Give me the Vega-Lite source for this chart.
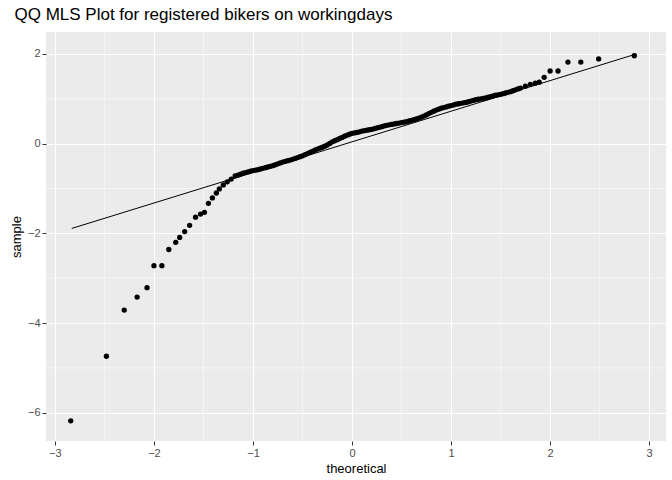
{
  "$schema": "https://vega.github.io/schema/vega-lite/v6.json",
  "width": 672,
  "height": 480,
  "autosize": {"type": "fit", "contains": "padding"},
  "padding": {"left": 10, "right": 5, "top": 5, "bottom": 5},
  "background": "white",
  "title": {"text": "QQ MLS Plot for registered bikers on workingdays", "anchor": "start", "font": "Liberation Sans", "fontSize": 17, "fontWeight": "normal", "color": "black", "offset": 8, "dx": 4},
  "config": {
    "view": {"fill": "#EBEBEB", "stroke": null},
    "axis": {"labelFont": "Liberation Sans", "titleFont": "Liberation Sans", "labelFontSize": 11, "titleFontSize": 13, "titleFontWeight": "normal", "labelColor": "#4D4D4D", "titleColor": "black", "tickColor": "#333333", "tickSize": 4, "domain": false, "gridColor": "white", "gridWidth": 1.1, "format": "d"}
  },
  "datasets": {
    "pts": [
      {"theoretical": -2.84, "sample": -6.18}, {"theoretical": -2.48, "sample": -4.74}, {"theoretical": -2.30, "sample": -3.71},
      {"theoretical": -2.17, "sample": -3.42}, {"theoretical": -2.07, "sample": -3.21}, {"theoretical": -2.00, "sample": -2.72},
      {"theoretical": -1.92, "sample": -2.72}, {"theoretical": -1.85, "sample": -2.36}, {"theoretical": -1.78, "sample": -2.20},
      {"theoretical": -1.74, "sample": -2.09}, {"theoretical": -1.69, "sample": -1.96}, {"theoretical": -1.64, "sample": -1.82},
      {"theoretical": -1.58, "sample": -1.64}, {"theoretical": -1.53, "sample": -1.57}, {"theoretical": -1.49, "sample": -1.53},
      {"theoretical": -1.45, "sample": -1.33}, {"theoretical": -1.41, "sample": -1.21}, {"theoretical": -1.37, "sample": -1.10},
      {"theoretical": -1.34, "sample": -1.01}, {"theoretical": -1.30, "sample": -0.92}, {"theoretical": -1.26, "sample": -0.85},
      {"theoretical": -1.22, "sample": -0.79}, {"theoretical": -1.18, "sample": -0.72},
      {"theoretical": -1.15, "sample": -0.70}, {"theoretical": -1.125, "sample": -0.68}, {"theoretical": -1.10, "sample": -0.66}, {"theoretical": -1.075, "sample": -0.645}, {"theoretical": -1.05, "sample": -0.63},
      {"theoretical": -1.025, "sample": -0.615}, {"theoretical": -1.00, "sample": -0.60}, {"theoretical": -0.975, "sample": -0.59}, {"theoretical": -0.95, "sample": -0.58}, {"theoretical": -0.925, "sample": -0.565}, {"theoretical": -0.90, "sample": -0.55},
      {"theoretical": -0.875, "sample": -0.535}, {"theoretical": -0.85, "sample": -0.52}, {"theoretical": -0.825, "sample": -0.505}, {"theoretical": -0.80, "sample": -0.49}, {"theoretical": -0.775, "sample": -0.47}, {"theoretical": -0.75, "sample": -0.45},
      {"theoretical": -0.725, "sample": -0.43}, {"theoretical": -0.70, "sample": -0.41}, {"theoretical": -0.675, "sample": -0.395}, {"theoretical": -0.65, "sample": -0.38}, {"theoretical": -0.625, "sample": -0.365}, {"theoretical": -0.60, "sample": -0.35},
      {"theoretical": -0.575, "sample": -0.33}, {"theoretical": -0.55, "sample": -0.31}, {"theoretical": -0.525, "sample": -0.29}, {"theoretical": -0.50, "sample": -0.27}, {"theoretical": -0.475, "sample": -0.245}, {"theoretical": -0.45, "sample": -0.22},
      {"theoretical": -0.425, "sample": -0.195}, {"theoretical": -0.40, "sample": -0.17}, {"theoretical": -0.375, "sample": -0.145}, {"theoretical": -0.35, "sample": -0.12}, {"theoretical": -0.325, "sample": -0.10}, {"theoretical": -0.30, "sample": -0.08},
      {"theoretical": -0.275, "sample": -0.055}, {"theoretical": -0.25, "sample": -0.03}, {"theoretical": -0.225, "sample": 0.005}, {"theoretical": -0.20, "sample": 0.04}, {"theoretical": -0.175, "sample": 0.065}, {"theoretical": -0.15, "sample": 0.09},
      {"theoretical": -0.125, "sample": 0.115}, {"theoretical": -0.10, "sample": 0.14}, {"theoretical": -0.075, "sample": 0.165}, {"theoretical": -0.05, "sample": 0.19}, {"theoretical": -0.025, "sample": 0.21}, {"theoretical": 0.00, "sample": 0.23},
      {"theoretical": 0.025, "sample": 0.24}, {"theoretical": 0.05, "sample": 0.25}, {"theoretical": 0.075, "sample": 0.265}, {"theoretical": 0.10, "sample": 0.28}, {"theoretical": 0.125, "sample": 0.29}, {"theoretical": 0.15, "sample": 0.30},
      {"theoretical": 0.175, "sample": 0.31}, {"theoretical": 0.20, "sample": 0.32}, {"theoretical": 0.225, "sample": 0.335}, {"theoretical": 0.25, "sample": 0.35}, {"theoretical": 0.275, "sample": 0.365}, {"theoretical": 0.30, "sample": 0.38},
      {"theoretical": 0.325, "sample": 0.395}, {"theoretical": 0.35, "sample": 0.41}, {"theoretical": 0.375, "sample": 0.42}, {"theoretical": 0.40, "sample": 0.43}, {"theoretical": 0.425, "sample": 0.44}, {"theoretical": 0.45, "sample": 0.45},
      {"theoretical": 0.475, "sample": 0.46}, {"theoretical": 0.50, "sample": 0.47}, {"theoretical": 0.525, "sample": 0.48}, {"theoretical": 0.55, "sample": 0.49}, {"theoretical": 0.575, "sample": 0.505}, {"theoretical": 0.60, "sample": 0.52},
      {"theoretical": 0.625, "sample": 0.535}, {"theoretical": 0.65, "sample": 0.55}, {"theoretical": 0.675, "sample": 0.57}, {"theoretical": 0.70, "sample": 0.59}, {"theoretical": 0.725, "sample": 0.615}, {"theoretical": 0.75, "sample": 0.64},
      {"theoretical": 0.775, "sample": 0.67}, {"theoretical": 0.80, "sample": 0.70}, {"theoretical": 0.825, "sample": 0.725}, {"theoretical": 0.85, "sample": 0.75}, {"theoretical": 0.875, "sample": 0.77}, {"theoretical": 0.90, "sample": 0.79},
      {"theoretical": 0.925, "sample": 0.805}, {"theoretical": 0.95, "sample": 0.82}, {"theoretical": 0.975, "sample": 0.835}, {"theoretical": 1.00, "sample": 0.85}, {"theoretical": 1.025, "sample": 0.865}, {"theoretical": 1.05, "sample": 0.88},
      {"theoretical": 1.075, "sample": 0.89}, {"theoretical": 1.10, "sample": 0.90}, {"theoretical": 1.125, "sample": 0.91}, {"theoretical": 1.15, "sample": 0.92}, {"theoretical": 1.175, "sample": 0.935}, {"theoretical": 1.20, "sample": 0.95},
      {"theoretical": 1.225, "sample": 0.965}, {"theoretical": 1.25, "sample": 0.98}, {"theoretical": 1.275, "sample": 0.99}, {"theoretical": 1.30, "sample": 1.00}, {"theoretical": 1.325, "sample": 1.01}, {"theoretical": 1.35, "sample": 1.02},
      {"theoretical": 1.375, "sample": 1.035}, {"theoretical": 1.40, "sample": 1.05}, {"theoretical": 1.425, "sample": 1.065}, {"theoretical": 1.45, "sample": 1.08}, {"theoretical": 1.475, "sample": 1.09}, {"theoretical": 1.50, "sample": 1.10},
      {"theoretical": 1.525, "sample": 1.115}, {"theoretical": 1.55, "sample": 1.13}, {"theoretical": 1.575, "sample": 1.145}, {"theoretical": 1.60, "sample": 1.16}, {"theoretical": 1.625, "sample": 1.18}, {"theoretical": 1.65, "sample": 1.20},
      {"theoretical": 1.675, "sample": 1.22}, {"theoretical": 1.70, "sample": 1.24}, {"theoretical": 1.75, "sample": 1.28}, {"theoretical": 1.80, "sample": 1.32},
      {"theoretical": 1.85, "sample": 1.35}, {"theoretical": 1.89, "sample": 1.37}, {"theoretical": 1.94, "sample": 1.48},
      {"theoretical": 2.00, "sample": 1.62}, {"theoretical": 2.08, "sample": 1.62}, {"theoretical": 2.18, "sample": 1.82},
      {"theoretical": 2.31, "sample": 1.82}, {"theoretical": 2.49, "sample": 1.89}, {"theoretical": 2.85, "sample": 1.96}
    ],
    "ref": [
      {"theoretical": -2.83, "sample": -1.89},
      {"theoretical": 2.87, "sample": 2.0}
    ],
    "minorx": [{"v": -2.5}, {"v": -1.5}, {"v": -0.5}, {"v": 0.5}, {"v": 1.5}, {"v": 2.5}],
    "minory": [{"v": -5}, {"v": -3}, {"v": -1}, {"v": 1}]
  },
  "layer": [
    {
      "data": {"name": "minorx"},
      "mark": {"type": "rule", "color": "white", "strokeWidth": 0.5},
      "encoding": {"x": {"field": "v", "type": "quantitative", "scale": {"domain": [-3.09, 3.17], "nice": false, "zero": false}}}
    },
    {
      "data": {"name": "minory"},
      "mark": {"type": "rule", "color": "white", "strokeWidth": 0.5},
      "encoding": {"y": {"field": "v", "type": "quantitative", "scale": {"domain": [-6.63, 2.49], "nice": false, "zero": false}}}
    },
    {
      "data": {"name": "ref"},
      "mark": {"type": "line", "color": "black", "strokeWidth": 1},
      "encoding": {
        "x": {"field": "theoretical", "type": "quantitative"},
        "y": {"field": "sample", "type": "quantitative"}
      }
    },
    {
      "data": {"name": "pts"},
      "mark": {"type": "circle", "color": "black", "opacity": 1, "size": 28},
      "encoding": {
        "x": {"field": "theoretical", "type": "quantitative", "title": "theoretical", "axis": {"values": [-3, -2, -1, 0, 1, 2, 3], "grid": true, "format": "d"}},
        "y": {"field": "sample", "type": "quantitative", "title": "sample", "axis": {"values": [-6, -4, -2, 0, 2], "grid": true, "format": "d"}}
      }
    }
  ]
}
